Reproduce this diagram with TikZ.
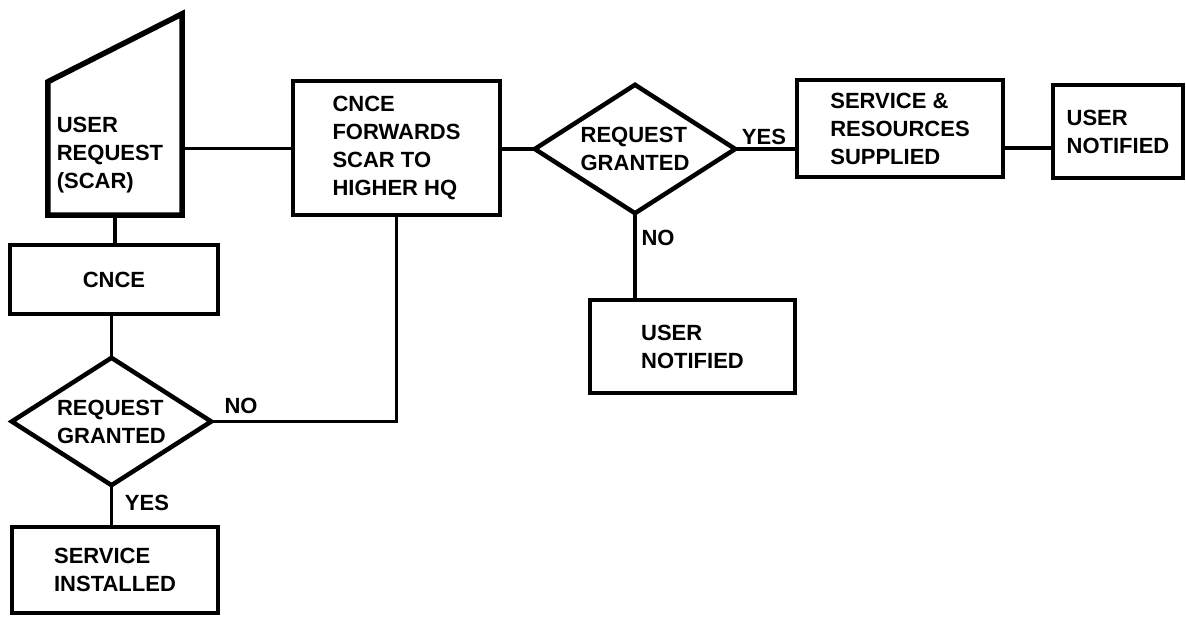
\documentclass[tikz,border=0pt]{standalone}
\usepackage{fontspec}
\setmainfont{Liberation Sans}
\begin{document}
\begin{tikzpicture}[x=1pt,y=-1pt,
  txt/.style={font=\fontsize{22}{28}\selectfont\bfseries, align=left, inner sep=0pt},
  flowbox/.style={txt, draw, line width=4.5pt, rectangle},
  region/.style={txt, rectangle, draw=none},
  outline/.style={line width=4.5pt, line join=miter},
  conn/.style={line width=3.2pt},
  lbl/.style={font=\fontsize{22}{28}\selectfont\bfseries, inner sep=0pt}
]
\useasboundingbox[fill=white] (0,0) rectangle (1186,616);

% manual input shape region
\node[region, minimum width=134pt, minimum height=133pt] (req) at (115,148.5) {};
\draw[line width=5.5pt, line join=miter] (req.south west) -- (req.north west) -- ([yshift=68pt]req.north east) -- (req.south east) -- cycle;
\node[txt] (reqt) at (110,155) {USER\\REQUEST\\(SCAR)};

\node[flowbox, minimum width=207pt, minimum height=134pt] (fwd) at (396.5,148) {CNCE\\FORWARDS\\SCAR TO\\HIGHER HQ};
\node[flowbox, minimum width=208pt, minimum height=69pt] (cnce) at (114,279.5) {CNCE};

\node[region, minimum width=199pt, minimum height=127pt] (d1) at (111.5,421.5) {REQUEST\\GRANTED};
\draw[outline] (d1.north) -- (d1.east) -- (d1.south) -- (d1.west) -- cycle;

\node[flowbox, minimum width=206pt, minimum height=86pt] (svcinst) at (115,570) {SERVICE\\INSTALLED};

\node[region, minimum width=200pt, minimum height=128pt] (d2) at (635,149) {REQUEST\\GRANTED};
\draw[outline] (d2.north) -- (d2.east) -- (d2.south) -- (d2.west) -- cycle;

\node[flowbox, minimum width=206pt, minimum height=97pt] (svc) at (900,128.5) {SERVICE \&\\RESOURCES\\SUPPLIED};
\node[flowbox, minimum width=130pt, minimum height=93pt] (un1) at (1118,131.5) {USER\\NOTIFIED};
\node[flowbox, minimum width=205pt, minimum height=93pt] (un2) at (692.5,346.5) {USER\\NOTIFIED};

% connectors
\draw[conn] (req.south) -- (req.south |- cnce.north);
\draw[conn] (req.east) -- (req.east -| fwd.west);
\draw[conn] (d1.north |- cnce.south) -- (d1.north);
\draw[conn] (d1.south) -- (d1.south |- svcinst.north);
\draw[conn] (d1.east) -| (fwd.south);
\draw[conn] (d2.west -| fwd.east) -- (d2.west);
\draw[conn] (d2.east) -- (d2.east -| svc.west);
\draw[conn] ([yshift=-19.5pt]svc.east) -- ([yshift=-19.5pt]svc.east -| un1.west);
\draw[conn] (d2.south) -- (d2.south |- un2.north);

% labels
\node[lbl] (no1) at (241,406) {NO};
\node[lbl] (yes1) at (147,503) {YES};
\node[lbl] (yes2) at (764,137) {YES};
\node[lbl] (no2) at (658,238) {NO};
\end{tikzpicture}
\end{document}
